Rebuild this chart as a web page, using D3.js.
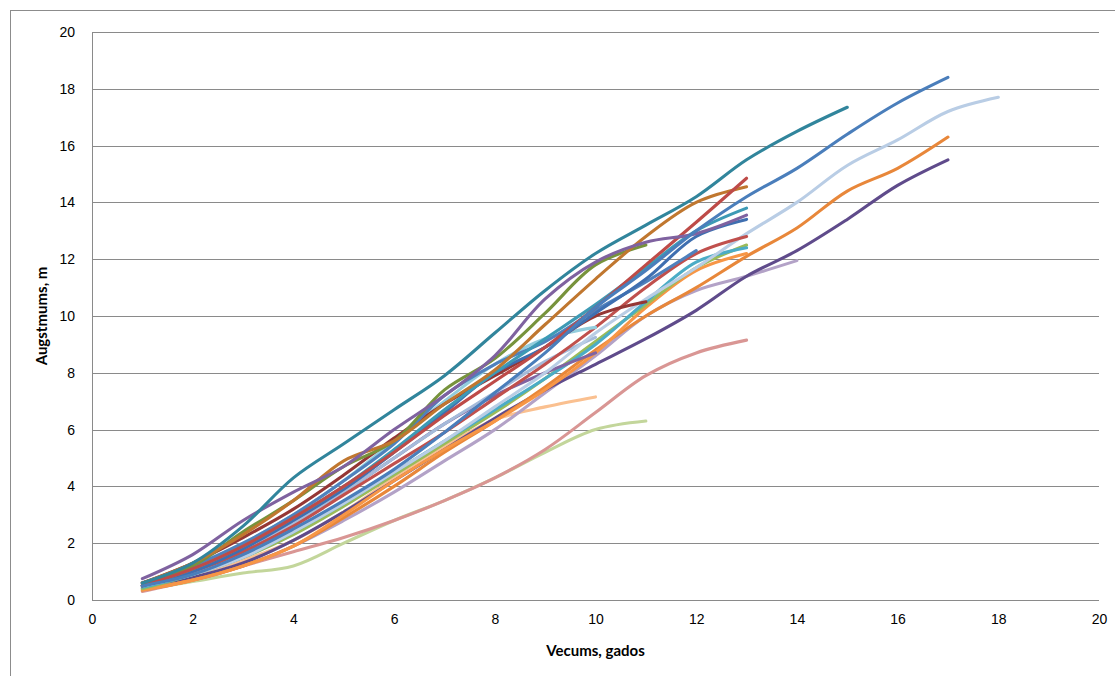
<!DOCTYPE html>
<html>
<head>
<meta charset="utf-8">
<script src="https://cdn.jsdelivr.net/npm/d3@7"></script>
<style>
  body { margin: 0; background: #fff; }
  svg { font-family: Lato, "Liberation Sans", sans-serif; }
  .axis text { font-size: 14px; fill: #000; }
  .axis path, .axis line { stroke: none; }
</style>
</head>
<body>
<div class="chart"></div>
<script>
// heights (m) per tree, first value is age 1
const tealTop    = [0.6, 1.3, 2.6, 4.3, 5.5, 6.7, 7.9, 9.4, 10.9, 12.2, 13.2, 14.2, 15.5, 16.5, 17.35];
const blueLong   = [0.5, 0.9, 1.6, 2.5, 3.5, 4.6, 5.9, 7.3, 8.7, 10.3, 11.6, 13.0, 14.2, 15.2, 16.4, 17.5, 18.4];
const greyBlue   = [0.5, 0.9, 1.5, 2.4, 3.4, 4.5, 5.6, 6.8, 8.0, 9.4, 10.6, 11.7, 12.9, 14.0, 15.3, 16.2, 17.2, 17.7];
const orangeLong = [0.35, 0.7, 1.2, 1.9, 2.9, 4.0, 5.2, 6.3, 7.5, 8.8, 10.0, 11.0, 12.1, 13.1, 14.4, 15.2, 16.3];
const plumLong   = [0.5, 0.8, 1.3, 2.1, 3.1, 4.2, 5.3, 6.4, 7.4, 8.3, 9.2, 10.2, 11.4, 12.3, 13.4, 14.6, 15.5];
const lilac      = [0.4, 0.7, 1.2, 1.9, 2.8, 3.8, 4.9, 6.0, 7.3, 8.6, 10.0, 10.9, 11.4, 11.95];
const rose       = [0.3, 0.7, 1.2, 1.7, 2.2, 2.8, 3.5, 4.3, 5.3, 6.6, 7.9, 8.7, 9.15];
const paleGreen  = [0.35, 0.65, 0.95, 1.2, 2.0, 2.8, 3.5, 4.3, 5.2, 6.0, 6.3];
const salmon     = [0.5, 0.9, 1.4, 2.1, 3.1, 4.3, 5.4, 6.35, 6.8, 7.15];
const paleBlue   = [0.6, 1.2, 2.0, 3.0, 4.2, 5.6, 7.0, 8.3, 9.2, 9.6];
const darkRed    = [0.6, 1.3, 2.2, 3.2, 4.4, 5.7, 6.9, 7.9, 8.9, 10.0, 10.5];
const redSteep   = [0.5, 1.1, 1.9, 2.9, 4.0, 5.2, 6.5, 7.7, 8.9, 10.3, 11.8, 13.3, 14.85];
const brown      = [0.6, 1.3, 2.3, 3.5, 4.9, 5.6, 6.9, 8.1, 9.7, 11.3, 12.8, 14.0, 14.55];
const olive      = [0.6, 1.2, 2.4, 3.5, 4.7, 5.6, 7.4, 8.5, 10.1, 11.8, 12.5];
const purple     = [0.75, 1.6, 2.8, 3.8, 4.7, 6.0, 7.2, 8.6, 10.6, 11.9, 12.6, 12.9, 13.55];
const tealBlue   = [0.5, 1.1, 1.9, 2.9, 4.0, 5.3, 6.7, 8.0, 9.2, 10.4, 11.7, 13.0, 13.8];
const blue13     = [0.5, 1.0, 1.8, 2.8, 3.9, 5.2, 6.6, 8.0, 8.9, 10.1, 11.3, 12.8, 13.4];
const red13      = [0.5, 1.0, 1.7, 2.6, 3.7, 4.8, 5.9, 7.1, 8.3, 9.6, 11.0, 12.2, 12.8];
const cyan13     = [0.45, 0.9, 1.5, 2.4, 3.4, 4.5, 5.6, 6.7, 7.8, 9.0, 10.5, 11.9, 12.4];
const orange13   = [0.35, 0.7, 1.2, 1.9, 3.0, 4.2, 5.3, 6.3, 7.4, 8.7, 10.3, 11.6, 12.2];
const green13    = [0.4, 0.9, 1.5, 2.3, 3.3, 4.4, 5.5, 6.6, 7.8, 9.1, 10.4, 11.7, 12.5];
const purple10   = [0.5, 1.0, 1.7, 2.7, 3.8, 5.0, 6.2, 7.2, 8.0, 8.7];
const steel10    = [0.55, 1.1, 1.8, 2.7, 3.8, 5.0, 6.2, 7.3, 8.4, 9.25];
const blue12     = [0.6, 1.2, 2.0, 3.0, 4.2, 5.5, 7.2, 8.3, 9.1, 10.2, 11.2, 12.3];

const seriesList = [paleGreen, rose, salmon, lilac, plumLong, orangeLong, orange13, green13,
  cyan13, purple10, steel10, greyBlue, red13, paleBlue, darkRed, blue12, blue13, tealBlue,
  olive, brown, redSteep, purple, blueLong, tealTop];
const colors = ['#C3D69B', '#D99694', '#FAC090', '#B3A2C7', '#5F4B8B', '#E8873A', '#F79646', '#9BBB59',
  '#4BACC6', '#8064A2', '#A5BBDA', '#B9CDE5', '#C0504D', '#93CDDD', '#953735', '#4F81BD', '#3F6FB0', '#3D9AB5',
  '#77933C', '#C0772F', '#BE4B48', '#7F62A0', '#4A7EBB', '#31859C'];

const xTicks = [0, 2, 4, 6, 8, 10, 12, 14, 16, 18, 20];
const yTicks = [0, 2, 4, 6, 8, 10, 12, 14, 16, 18, 20];

const W = 1115, H = 676;
const margin = ({top: 32, right: 16, bottom: 76, left: 92});
const width = W - margin.left - margin.right;
const height = H - margin.top - margin.bottom;

const root = d3.select('.chart')
  .append('svg')
  .attr('width', W)
  .attr('height', H);

// chart area border
root.append('rect')
  .attr('x', 10.5).attr('y', 10.5)
  .attr('width', W + 20).attr('height', H + 20)
  .attr('fill', 'none')
  .attr('stroke', '#8c8c8c');

const svg = root.append('g')
  .attr('transform', `translate(${margin.left},${margin.top})`);

const xScale = d3.scaleLinear().domain([0, 20]).range([0, width]);
const yScale = d3.scaleLinear().domain([0, 20]).range([height, 0]);

// gridlines
svg.selectAll('.grid')
  .data(yTicks.filter(d => d > 0))
  .enter()
  .append('line')
  .attr('class', 'grid')
  .attr('x1', 0).attr('x2', width)
  .attr('y1', d => Math.round(yScale(d)) + 0.5)
  .attr('y2', d => Math.round(yScale(d)) + 0.5)
  .attr('stroke', '#8a8a8a');

// axis lines
svg.append('line')
  .attr('x1', 0.5).attr('x2', 0.5).attr('y1', 0).attr('y2', height)
  .attr('stroke', '#8a8a8a');
svg.append('line')
  .attr('x1', 0).attr('x2', width)
  .attr('y1', Math.round(height) + 0.5).attr('y2', Math.round(height) + 0.5)
  .attr('stroke', '#8a8a8a');

const xAxis = d3.axisBottom(xScale).tickValues(xTicks).tickSize(0).tickPadding(14);
const yAxis = d3.axisLeft(yScale).tickValues(yTicks).tickSize(0).tickPadding(17);

svg.append('g')
  .attr('class', 'axis x-axis')
  .attr('transform', `translate(0, ${height})`)
  .call(xAxis);

svg.append('g')
  .attr('class', 'axis y-axis')
  .call(yAxis);

// lines
const line = d3.line()
  .x((d, i) => xScale(i + 1))
  .y(d => yScale(d))
  .curve(d3.curveCatmullRom.alpha(0.5));

svg.selectAll('.series')
  .data(seriesList)
  .enter()
  .append('path')
  .attr('class', 'series')
  .attr('d', d => line(d))
  .attr('fill', 'none')
  .attr('stroke', (d, i) => colors[i])
  .attr('stroke-width', 3.1)
  .attr('stroke-linecap', 'round');

// axis titles
svg.append('text')
  .attr('x', width / 2)
  .attr('y', height + 56)
  .attr('text-anchor', 'middle')
  .attr('font-size', 15)
  .attr('font-weight', 'bold')
  .text('Vecums, gados');

svg.append('text')
  .attr('transform', `translate(${-45}, ${height / 2}) rotate(-90)`)
  .attr('text-anchor', 'middle')
  .attr('font-size', 15)
  .attr('font-weight', 'bold')
  .text('Augstmums, m');
</script>
</body>
</html>
